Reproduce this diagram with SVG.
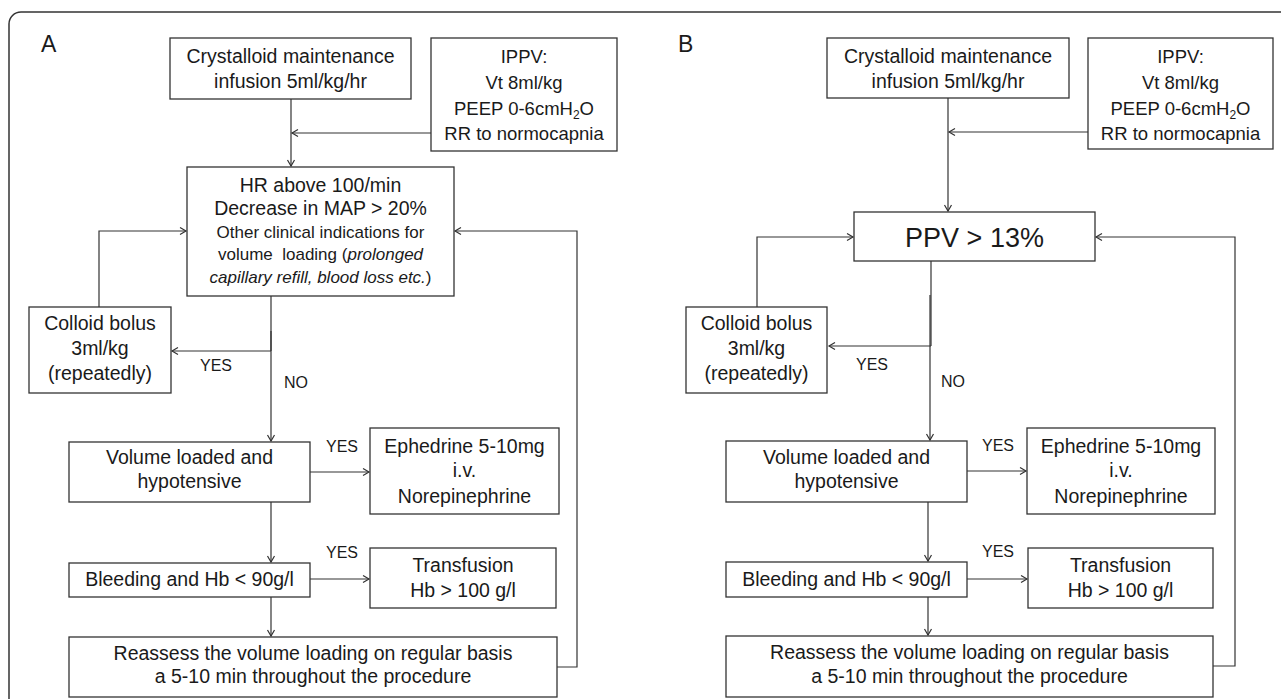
<svg xmlns="http://www.w3.org/2000/svg" width="1281" height="699" viewBox="0 0 1281 699">
<defs>
<style>
.box{fill:#fff;stroke:#333;stroke-width:1.3}
.con{fill:none;stroke:#333;stroke-width:1.2;marker-end:url(#ah)}
.ln{fill:none;stroke:#333;stroke-width:1.2}
text{font-family:"Liberation Sans",Arial,sans-serif;fill:#1a1a1a;text-anchor:middle;font-size:19.5px}
.sm{font-size:17px}
.ip{font-size:18.5px}
.lab{font-size:23px;text-anchor:start}
.big{font-size:27px}
.yn{font-size:16px;text-anchor:start}
</style>
<marker id="ah" markerUnits="userSpaceOnUse" markerWidth="10" markerHeight="10" refX="7" refY="4.5" orient="auto">
<path d="M1,1 L7,4.5 L1,8" fill="none" stroke="#333" stroke-width="1.2"/>
</marker>
</defs>
<rect width="1281" height="699" fill="#fff"/>
<rect x="9" y="12" width="1290" height="710" rx="12" ry="12" fill="none" stroke="#333" stroke-width="1.5"/>

<g id="connectors">
<!-- Panel A -->
<line class="con" x1="291" y1="99" x2="291" y2="166"/>
<line class="con" x1="431" y1="133" x2="292" y2="133"/>
<line class="ln" x1="271" y1="296" x2="271" y2="351"/>
<line class="con" x1="271" y1="351" x2="172" y2="351"/>
<line class="con" x1="271" y1="331" x2="271" y2="441"/>
<polyline class="con" points="99,307 99,231 186,231"/>
<polyline class="con" points="557,667 577,667 577,231 455,231"/>
<line class="con" x1="310" y1="472" x2="369" y2="472"/>
<line class="con" x1="271" y1="502" x2="271" y2="562"/>
<line class="con" x1="310" y1="579" x2="369" y2="579"/>
<line class="con" x1="271" y1="597" x2="271" y2="636"/>
<!-- Panel B -->
<line class="con" x1="948" y1="98" x2="948" y2="211"/>
<line class="con" x1="1088" y1="132" x2="949" y2="132"/>
<line class="ln" x1="931" y1="261" x2="931" y2="346"/>
<line class="con" x1="931" y1="346" x2="829" y2="346"/>
<line class="con" x1="930" y1="295" x2="930" y2="440"/>
<polyline class="con" points="757,307 757,237 853,237"/>
<polyline class="con" points="1213,666 1235,666 1235,237 1096,237"/>
<line class="con" x1="967" y1="471" x2="1026" y2="471"/>
<line class="con" x1="928" y1="502" x2="928" y2="561"/>
<line class="con" x1="967" y1="579" x2="1027" y2="579"/>
<line class="con" x1="928" y1="597" x2="928" y2="635"/>
</g>

<g id="labels">
<text class="lab" x="41" y="52">A</text>
<text class="lab" x="678" y="52">B</text>
<text class="yn" x="200" y="371">YES</text>
<text class="yn" x="284" y="388">NO</text>
<text class="yn" x="326" y="452">YES</text>
<text class="yn" x="326" y="558">YES</text>
<text class="yn" x="856" y="370">YES</text>
<text class="yn" x="941" y="387">NO</text>
<text class="yn" x="982" y="451">YES</text>
<text class="yn" x="982" y="557">YES</text>
</g>

<!-- Panel A nodes -->
<g id="a-crystalloid">
<rect class="box" x="170" y="38" width="241" height="61"/>
<text x="290.5" y="63">Crystalloid maintenance</text>
<text x="290.5" y="88">infusion 5ml/kg/hr</text>
</g>
<g id="a-ippv">
<rect class="box" x="431" y="38" width="186" height="113"/>
<text class="ip" x="524" y="63">IPPV:</text>
<text class="ip" x="524" y="89">Vt 8ml/kg</text>
<text class="ip" x="524" y="115">PEEP 0-6cmH<tspan font-size="12" dy="4">2</tspan><tspan dy="-4">O</tspan></text>
<text class="ip" x="524" y="140">RR to normocapnia</text>
</g>
<g id="a-hr">
<rect class="box" x="187" y="167" width="267" height="129"/>
<text x="320.5" y="192">HR above 100/min</text>
<text x="320.5" y="215">Decrease in MAP &gt; 20%</text>
<text class="sm" x="320.5" y="238">Other clinical indications for</text>
<text class="sm" x="320.5" y="260" xml:space="preserve">volume  loading (<tspan font-style="italic">prolonged</tspan></text>
<text class="sm" x="320.5" y="283"><tspan font-style="italic">capillary refill, blood loss etc.</tspan>)</text>
</g>
<g id="a-colloid">
<rect class="box" x="29" y="307" width="142" height="86"/>
<text x="100" y="330">Colloid bolus</text>
<text x="100" y="355">3ml/kg</text>
<text x="100" y="380">(repeatedly)</text>
</g>
<g id="a-volume">
<rect class="box" x="69" y="442" width="241" height="60"/>
<text x="189.5" y="464">Volume loaded and</text>
<text x="189.5" y="488">hypotensive</text>
</g>
<g id="a-ephedrine">
<rect class="box" x="370" y="428" width="189" height="86"/>
<text x="464.5" y="453">Ephedrine 5-10mg</text>
<text x="464.5" y="477">i.v.</text>
<text x="464.5" y="503">Norepinephrine</text>
</g>
<g id="a-bleeding">
<rect class="box" x="69" y="563" width="241" height="34"/>
<text x="189.5" y="586">Bleeding and Hb &lt; 90g/l</text>
</g>
<g id="a-transfusion">
<rect class="box" x="370" y="548" width="186" height="60"/>
<text x="463" y="572">Transfusion</text>
<text x="463" y="597">Hb &gt; 100 g/l</text>
</g>
<g id="a-reassess">
<rect class="box" x="69" y="637" width="488" height="60"/>
<text x="313" y="660">Reassess the volume loading on regular basis</text>
<text x="313" y="683">a 5-10 min throughout the procedure</text>
</g>

<!-- Panel B nodes -->
<g id="b-crystalloid">
<rect class="box" x="827" y="38" width="242" height="60"/>
<text x="948" y="63">Crystalloid maintenance</text>
<text x="948" y="88">infusion 5ml/kg/hr</text>
</g>
<g id="b-ippv">
<rect class="box" x="1088" y="38" width="185" height="111"/>
<text class="ip" x="1180.5" y="63">IPPV:</text>
<text class="ip" x="1180.5" y="89">Vt 8ml/kg</text>
<text class="ip" x="1180.5" y="115">PEEP 0-6cmH<tspan font-size="12" dy="4">2</tspan><tspan dy="-4">O</tspan></text>
<text class="ip" x="1180.5" y="140">RR to normocapnia</text>
</g>
<g id="b-ppv">
<rect class="box" x="854" y="212" width="241" height="49"/>
<text class="big" x="974.5" y="247">PPV &gt; 13%</text>
</g>
<g id="b-colloid">
<rect class="box" x="686" y="307" width="141" height="86"/>
<text x="756.5" y="330">Colloid bolus</text>
<text x="756.5" y="355">3ml/kg</text>
<text x="756.5" y="380">(repeatedly)</text>
</g>
<g id="b-volume">
<rect class="box" x="726" y="441" width="241" height="61"/>
<text x="846.5" y="464">Volume loaded and</text>
<text x="846.5" y="488">hypotensive</text>
</g>
<g id="b-ephedrine">
<rect class="box" x="1027" y="428" width="188" height="86"/>
<text x="1121" y="453">Ephedrine 5-10mg</text>
<text x="1121" y="477">i.v.</text>
<text x="1121" y="503">Norepinephrine</text>
</g>
<g id="b-bleeding">
<rect class="box" x="726" y="562" width="241" height="35"/>
<text x="846.5" y="586">Bleeding and Hb &lt; 90g/l</text>
</g>
<g id="b-transfusion">
<rect class="box" x="1028" y="548" width="185" height="60"/>
<text x="1120.5" y="572">Transfusion</text>
<text x="1120.5" y="597">Hb &gt; 100 g/l</text>
</g>
<g id="b-reassess">
<rect class="box" x="726" y="636" width="487" height="61"/>
<text x="969.5" y="659">Reassess the volume loading on regular basis</text>
<text x="969.5" y="683">a 5-10 min throughout the procedure</text>
</g>
</svg>
